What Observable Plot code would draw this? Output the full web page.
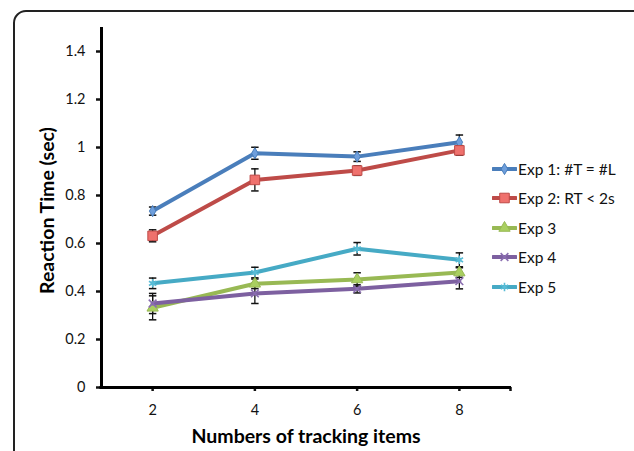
<!DOCTYPE html>
<html>
<head>
<meta charset="utf-8">
<script src="https://cdn.jsdelivr.net/npm/d3@7"></script>
<script src="https://cdn.jsdelivr.net/npm/@observablehq/plot@0.6"></script>
<style>
  html, body { margin: 0; padding: 0; background: #fff; }
  body { width: 634px; height: 451px; position: relative; overflow: hidden; font-family: Lato, "DejaVu Sans", sans-serif; }
  #frame { position: absolute; left: 13px; top: 10px; width: 640px; height: 470px; border: 2px solid #222; border-radius: 13px; box-sizing: border-box; }
  #chart { position: absolute; left: 0; top: 0; }
  #legend { position: absolute; left: 492px; top: 154px; font-size: 15.5px; color: #111; }
  #legend .row { height: 29.5px; display: flex; align-items: center; }
  #legend svg { margin-right: 1px; }
</style>
</head>
<body>
<div id="frame"></div>
<div id="chart"></div>
<div id="legend"></div>
<script>
// Data
const items = [2, 4, 6, 8];
const seriesNames = ["Exp 1: #T = #L", "Exp 2: RT < 2s", "Exp 3", "Exp 4", "Exp 5"];
const exp1 = [0.735, 0.976, 0.962, 1.022];
const exp2 = [0.632, 0.865, 0.904, 0.988];
const exp3 = [0.332, 0.432, 0.450, 0.479];
const exp4 = [0.350, 0.392, 0.411, 0.443];
const exp5 = [0.434, 0.479, 0.578, 0.532];
const err1 = [0.017, 0.025, 0.020, 0.030];
const err2 = [0.025, 0.046, 0.020, 0.020];
const err3 = [0.050, 0.020, 0.028, 0.020];
const err4 = [0.042, 0.042, 0.017, 0.032];
const err5 = [0.022, 0.022, 0.026, 0.029];
const yTicks = [0, 0.2, 0.4, 0.6, 0.8, 1.0, 1.2, 1.4];

const lineColors = ["#4a7ebb", "#be4b48", "#98b954", "#7d60a0", "#46aac5"];
const fillColors = ["#6f9fdc", "#ef716d", "#a9cf60", "#8a6db0", "#58bcd6"];
const symbols = ["diamond", "square", "triangle", "times", "asterisk"];
const radii = [3.4, 5.4, 4.2, 3.6, 4.0];

const values = [exp1, exp2, exp3, exp4, exp5];
const errors = [err1, err2, err3, err4, err5];

const data = [];
values.forEach((vals, s) => vals.forEach((v, i) => data.push({
  series: seriesNames[s], s, x: items[i], y: v, lo: v - errors[s][i], hi: v + errors[s][i]
})));

// horizontal cap symbol for error bars
const capSymbol = { draw(ctx, size) { const w = Math.sqrt(size) / 2; ctx.moveTo(-w, 0); ctx.lineTo(w, 0); } };

const marks = [];
// error bars
marks.push(Plot.ruleX(data, { x: "x", y1: "lo", y2: "hi", stroke: "#111", strokeWidth: 1.3 }));
marks.push(Plot.dot(data, { x: "x", y: "lo", symbol: capSymbol, r: 4.2, stroke: "#111", strokeWidth: 1.5, fill: "none" }));
marks.push(Plot.dot(data, { x: "x", y: "hi", symbol: capSymbol, r: 4.2, stroke: "#111", strokeWidth: 1.5, fill: "none" }));

for (let s = 0; s < values.length; s++) {
  const d = data.filter(p => p.s === s);
  marks.push(Plot.line(d, { x: "x", y: "y", stroke: lineColors[s], strokeWidth: 4, strokeLinejoin: "round" }));
  const filled = s < 3;
  marks.push(Plot.dot(d, {
    x: "x", y: "y", symbol: symbols[s], r: radii[s],
    fill: filled ? fillColors[s] : "none",
    stroke: filled ? lineColors[s] : fillColors[s],
    strokeWidth: filled ? 1 : 1.6
  }));
}

// axes
marks.push(Plot.axisY({ ticks: yTicks, tickSize: 5, tickPadding: 11, strokeWidth: 2.5, fontSize: 14.5, label: null, tickFormat: d => String(+d.toFixed(1)) }));
marks.push(Plot.axisX({ ticks: items, tickSize: 4, tickPadding: 13, strokeWidth: 2.5, fontSize: 14.5, label: null, tickFormat: d => String(d) }));
marks.push(Plot.axisX({ ticks: [9], tickSize: 4, strokeWidth: 2.5, label: null, tickFormat: () => "" }));
marks.push(Plot.ruleX([1], { y1: 0, y2: 1.5, stroke: "#000", strokeWidth: 3 }));
marks.push(Plot.ruleY([0], { x1: 0.97, x2: 9.02, stroke: "#000", strokeWidth: 3 }));
// titles
marks.push(Plot.text(["Reaction Time (sec)"], { frameAnchor: "left", textAnchor: "middle", lineAnchor: "middle", dx: -54, dy: 3, rotate: -90, fontSize: 19.5, fontWeight: "bold", fill: "#000" }));
marks.push(Plot.text(["Numbers of tracking items"], { frameAnchor: "bottom", textAnchor: "middle", lineAnchor: "middle", dy: 49, fontSize: 19.5, fontWeight: "bold", fill: "#000" }));

const chart = Plot.plot({
  width: 634, height: 451,
  marginLeft: 101, marginRight: 124, marginTop: 27, marginBottom: 64,
  style: { fontFamily: "Lato, sans-serif", color: "#111", background: "transparent", overflow: "visible" },
  x: { type: "linear", domain: [1, 9], axis: null },
  y: { domain: [0, 1.5], axis: null },
  marks
});
document.getElementById("chart").appendChild(chart);

// legend
const legend = document.getElementById("legend");
const symbolTypes = { diamond: d3.symbolDiamond, square: d3.symbolSquare, triangle: d3.symbolTriangle, times: d3.symbolTimes, asterisk: d3.symbolAsterisk };
seriesNames.forEach((name, s) => {
  const row = document.createElement("div");
  row.className = "row";
  const svg = d3.create("svg").attr("width", 25).attr("height", 14);
  svg.append("line").attr("x1", 1).attr("x2", 24).attr("y1", 7).attr("y2", 7)
    .attr("stroke", lineColors[s]).attr("stroke-width", 4).attr("stroke-linecap", "round");
  const filled = s < 3;
  svg.append("path").attr("transform", "translate(12.5,7)")
    .attr("d", d3.symbol(symbolTypes[symbols[s]], Math.PI * radii[s] * radii[s])())
    .attr("fill", filled ? fillColors[s] : "none")
    .attr("stroke", filled ? lineColors[s] : fillColors[s])
    .attr("stroke-width", filled ? 1 : 1.6);
  row.appendChild(svg.node());
  const span = document.createElement("span");
  span.textContent = name;
  row.appendChild(span);
  legend.appendChild(row);
});
</script>
</body>
</html>
